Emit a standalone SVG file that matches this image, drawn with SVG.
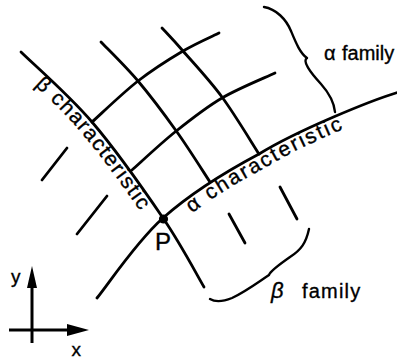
<svg xmlns="http://www.w3.org/2000/svg" width="397" height="359" viewBox="0 0 397 359">
<style>
.ln{fill:none;stroke:#000;stroke-width:2.8;stroke-linecap:round;stroke-linejoin:round}
.br{fill:none;stroke:#000;stroke-width:2.4;stroke-linecap:round;stroke-linejoin:round}
.ax{fill:none;stroke:#000;stroke-width:3}
.t{font-family:"Liberation Sans",Arial,sans-serif;fill:#000;stroke:#000;stroke-width:0.35}
.lab{font-size:21px;letter-spacing:1.5px}
.lab2{font-size:21px;letter-spacing:2.1px}
.fam{font-size:20px}
</style>
<defs>
<path id="betaBase" d="M10.5,62.7 C22.2,74.4 57.1,104.3 80.6,131.75 C104.1,159.2 132,199.1 150.6,226.4"/>
<path id="alphaBase" d="M172.9,229.2 C199.9,205.2 227.5,187.8 266.5,167 C305,143.3 376.5,114.4 401.4,107.4"/>
</defs>
<rect width="397" height="359" fill="#fff"/>
<g id="connectors">
<path id="beta-char" class="ln" d="M21,52 C32.8,63.7 68.3,94.3 92,122 C115.7,149.7 144.3,190.5 163,218 C181.7,245.5 197.2,275.5 204,287"/>
<path id="alpha-char" class="ln" d="M97,298 C108,284.7 136,242 163,218 C190,194 220,174.8 259,154 C298,130 372,100 399,92"/>
<path id="alpha1" class="ln" d="M92,122 C99.7,115.2 122.8,92.8 138,81 C153.2,69.2 169.5,59 183,51 C196.5,43 213,36 219,33"/>
<path id="alpha2" class="ln" d="M132,170 C139.2,163.7 160,144 175,132 C190,120 205.3,107.8 222,98 C238.7,88.2 266.2,77.2 275,73"/>
<path id="beta2" class="ln" d="M101,42 C107.2,48.5 125.3,66 138,81 C150.7,96 165,115.2 177,132 C189,148.8 204.5,173.7 210,182"/>
<path id="beta3" class="ln" d="M162,28 C165.5,31.8 173,39.5 183,51 C193,62.5 209.3,79.8 222,97 C234.7,114.2 252.8,144.5 259,154"/>
<path class="ln" d="M67,148 L42,180"/>
<path class="ln" d="M107,196 L77,234"/>
<path class="ln" d="M229,214 L245,243"/>
<path class="ln" d="M280,187 L297,219"/>
<path id="alpha-brace" class="br" d="M264,7 C276,9 286,19 291,31 C296,43 300,53 307,58 C302,61 310,72 321,84 C329,93 334,102 335,112"/>
<path id="beta-brace" class="br" d="M210,299 C215,302 222,302 232,298 C245,292 257,283 269,275 C270,271 280,264 290,257 C301,250 306,243 309,229"/>
<line class="ax" x1="32" y1="343" x2="32" y2="285"/>
<polygon points="32,266 27,288 37,288" fill="#000"/>
<line class="ax" x1="9" y1="330" x2="70" y2="330"/>
<polygon points="89,330 67,324 67,336" fill="#000"/>
</g>
<g id="P">
<circle cx="163.5" cy="219" r="4.6" fill="#000"/>
<text class="t" x="155" y="250" font-size="24">P</text>
</g>
<g id="beta-characteristic">
<text class="t lab"><textPath href="#betaBase" startOffset="33">β characteristic</textPath></text>
</g>
<g id="alpha-characteristic">
<text class="t lab2"><textPath href="#alphaBase" startOffset="25">α characteristic</textPath></text>
</g>
<g id="alpha-family">
<text class="t fam" x="324" y="60">α<tspan x="342">family</tspan></text>
</g>
<g id="beta-family">
<text class="t fam" x="271" y="298" letter-spacing="1.2"><tspan font-size="22" font-style="italic">β</tspan><tspan x="302">family</tspan></text>
</g>
<g id="axes-labels">
<text class="t" x="11" y="283" font-size="19">y</text>
<text class="t" x="71.5" y="356" font-size="19">x</text>
</g>
</svg>
